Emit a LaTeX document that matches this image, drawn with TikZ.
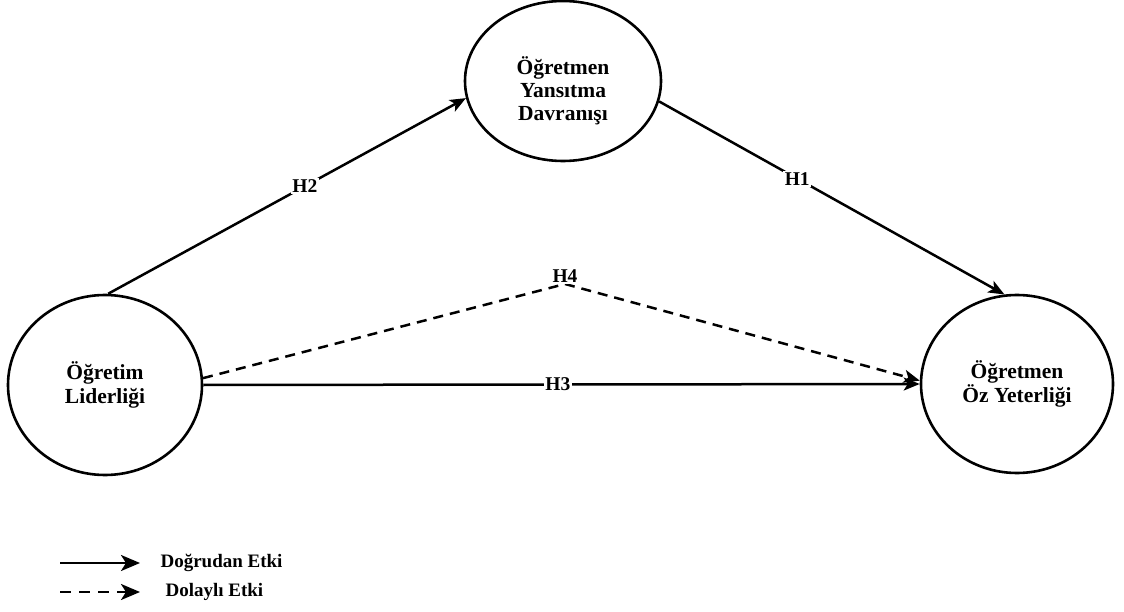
\documentclass[tikz,border=0pt]{standalone}
\usepackage{fontspec}
\setmainfont{Liberation Serif}
\usetikzlibrary{shapes.geometric,arrows.meta}
\begin{document}
\begin{tikzpicture}[x=1pt,y=-1pt,
  construct/.style={draw,ellipse,line width=2.6pt,fill=white,inner sep=0pt,align=center,
     font=\fontsize{21.5}{23.5}\selectfont\bfseries},
  ctext/.style={align=center,inner sep=0pt,font=\fontsize{21.5}{23}\selectfont\bfseries},
  link/.style={line width=2.5pt,-{Stealth[length=16pt,width=13pt,inset=4pt]}},
  dlink/.style={link,dash pattern=on 10pt off 7pt},
  hlabel/.style={fill=white,inner sep=1.5pt,font=\fontsize{19.5}{21}\selectfont\bfseries},
  legtext/.style={anchor=west,font=\fontsize{19}{21}\selectfont\bfseries}]
\useasboundingbox (0,0) rectangle (1124,612);
\node[construct,minimum width=196pt,minimum height=160pt] (T) at (563,81) {};
\node[ctext] (tT) at (563,91) {Öğretmen\\Yansıtma\\Davranışı};
\node[construct,minimum width=194pt,minimum height=180pt] (L) at (105,385) {Öğretim\\Liderliği};
\node[construct,minimum width=192pt,minimum height=178pt] (R) at (1017,384) {Öğretmen\\Öz Yeterliği};
\coordinate (V) at (565,284);
\draw[link] (L.88) -- node[hlabel,pos=0.55] (h2) {H2} (T.190);
\draw[link] (T.348) -- node[hlabel,pos=0.4] (h1) {H1} (R.98);
\draw[dlink] (L.4) -- (V) -- (R.178);
\node[hlabel] (h4) at (565,276) {H4};
\draw[link] (L.east) -- node[hlabel,pos=0.495] (h3) {H3} (R.west);
% legend
\coordinate (s1) at (60,563);
\coordinate (e1) at (140,563);
\coordinate (s2) at (60,592);
\coordinate (e2) at (140,592);
\draw[line width=2.6pt,-{Stealth[length=19pt,width=16pt,inset=5pt]}] (s1) -- (e1);
\draw[line width=2.6pt,dash pattern=on 11pt off 8pt,-{Stealth[length=19pt,width=16pt,inset=5pt]}] (s2) -- (e2);
\node[legtext] (l1) at (157,563) {Doğrudan Etki};
\node[legtext] (l2) at (162,592) {Dolaylı Etki};
\end{tikzpicture}
\end{document}
